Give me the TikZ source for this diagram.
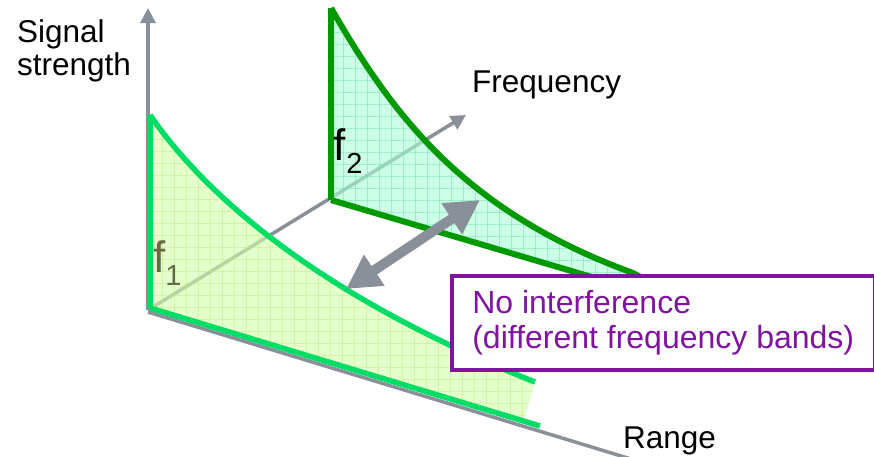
\documentclass[tikz,border=0pt]{standalone}
\usepackage{fontspec}
\setmainfont{Liberation Sans}
\usetikzlibrary{arrows.meta}
\definecolor{axisgray}{RGB}{138,144,153}
\definecolor{fonegreen}{RGB}{0,221,102}
\definecolor{ftwogreen}{RGB}{0,153,0}
\definecolor{fonefill}{RGB}{213,255,170}
\definecolor{ftwofill}{RGB}{170,255,213}
\definecolor{onegrid}{RGB}{190,240,120}
\definecolor{twogrid}{RGB}{110,230,170}
\definecolor{boxpurple}{RGB}{128,20,160}
\definecolor{fonelabel}{RGB}{100,108,70}
\begin{document}
\begin{tikzpicture}[x=1pt,y=-1pt,
  axisline/.style={draw=axisgray,line width=3.5pt},
  axisarrow/.style={axisline,-{Triangle[width=15pt,length=15pt]}},
  dblarrow/.style={draw=axisgray,line width=10pt,{Triangle[width=35pt,length=34pt]}-{Triangle[width=35pt,length=34pt]}},
  bandone/.style={draw=fonegreen,line width=5.5pt,line join=round},
  bandtwo/.style={draw=ftwogreen,line width=6pt,line join=round},
  gridone/.style={draw=onegrid,line width=0.8pt,opacity=0.5},
  gridtwo/.style={draw=twogrid,line width=0.8pt,opacity=0.5},
  lbl/.style={inner sep=0pt,font=\fontsize{31.5}{33}\selectfont},
  boxstyle/.style={draw=boxpurple,line width=3.5pt,fill=white,text=boxpurple,
    minimum width=423pt,minimum height=94pt,align=left,inner sep=0pt,
    font=\fontsize{32}{35}\selectfont}]
\clip (0,0) rectangle (874,456);
\fill[white] (0,0) rectangle (874,456);
% axes
\coordinate (O) at (148,310);
\coordinate (Oy) at (148,312);
\coordinate (Ytop) at (148,8);
\coordinate (Ftip) at (466,115);
\coordinate (Rend) at (700,480);
\draw[axisarrow] (O) -- (Ytop);
\draw[axisarrow] (O) -- (Ftip);
\draw[axisline] (Oy) -- (Rend);
% band f1
\coordinate (a1) at (150,115);
\coordinate (a2) at (535,382);
\coordinate (a3) at (524,420);
\coordinate (a4) at (150,308);
\coordinate (a5) at (540,426);
\fill[fonefill,fill opacity=0.6] (a1) .. controls (212,205) and (335,303) .. (a2) -- (a3) -- (a4) -- cycle;
\begin{scope}
  \clip (a1) .. controls (212,205) and (335,303) .. (a2) -- (a3) -- (a4) -- cycle;
  \foreach \gx in {150,162,...,560} \draw[gridone] (\gx,100) -- (\gx,440);
  \foreach \gy in {115,127,...,440} \draw[gridone] (140,\gy) -- (560,\gy);
\end{scope}
\draw[bandone] (a4) -- (a1);
\draw[bandone] (a1) .. controls (212,205) and (335,303) .. (a2);
\draw[bandone] (a4) -- (a5);
% band f2
\coordinate (b1) at (331,8);
\coordinate (b2) at (633,273);
\coordinate (b3) at (700,309);
\coordinate (b4) at (331,200);
\fill[ftwofill,fill opacity=0.6] (b1) .. controls (390,110) and (460,210) .. (b2) -- (b3) -- (b4) -- cycle;
\begin{scope}
  \clip (b1) .. controls (390,110) and (460,210) .. (b2) -- (b3) -- (b4) -- cycle;
  \foreach \gx in {331,343,...,710} \draw[gridtwo] (\gx,0) -- (\gx,320);
  \foreach \gy in {8,20,...,320} \draw[gridtwo] (320,\gy) -- (710,\gy);
\end{scope}
\draw[bandtwo] (b4) -- (b1);
\draw[bandtwo] (b1) .. controls (390,110) and (460,210) .. (b2) -- (b3);
\draw[bandtwo] (b4) -- (b3);
% double arrow
\coordinate (da) at (346,289);
\coordinate (db) at (480,200);
\draw[dblarrow] (da) -- (db);
% box
\node[boxstyle,anchor=north west] (box) at (450,274) {No interference\\(different frequency bands)};
% labels
\node[lbl,anchor=north west,align=left] (ylabel) at (17,19) {Signal\\strength};
\node[lbl,anchor=base west] (flabel) at (472,92) {Frequency};
\node[lbl,anchor=base west] (rlabel) at (623,448) {Range};
\node[inner sep=0pt,anchor=base west] (ftwo) at (333,160) {\fontsize{44}{44}\selectfont f\kern1pt\fontsize{29}{29}\selectfont\raisebox{-13pt}{2}};
\node[inner sep=0pt,anchor=base west,text=fonelabel] (fone) at (153,272) {\fontsize{44}{44}\selectfont f\fontsize{29}{29}\selectfont\raisebox{-13pt}{1}};
\end{tikzpicture}
\end{document}
